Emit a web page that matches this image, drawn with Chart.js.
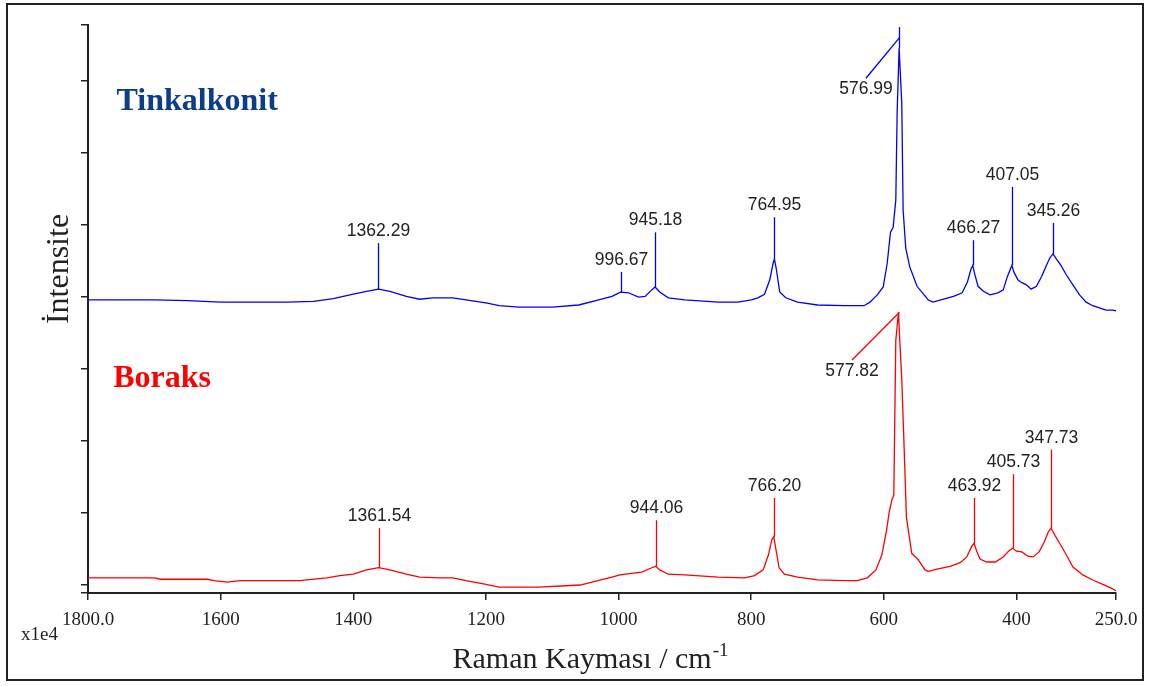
<!DOCTYPE html>
<html>
<head>
<meta charset="utf-8">
<script src="https://cdn.jsdelivr.net/npm/chart.js@4"></script>
<style>
  body { margin: 0; background: #fff; }
  #wrap { width: 1152px; height: 686px; }
</style>
</head>
<body>
<div id="wrap"><canvas id="ramanChart"></canvas></div>
<script>
// Tinkalkonit spectrum (Raman shift cm-1, intensity x1e4, offset)
const blueX = [1800, 1700, 1650, 1600, 1500, 1460, 1430, 1400, 1380, 1362, 1345, 1320, 1300, 1280, 1250, 1230, 1200, 1180, 1150, 1100,
  1060, 1030, 1010, 997, 985, 970, 960, 950, 945, 938, 925, 900, 850, 820, 800, 790, 780, 772, 767, 765,
  762, 757, 748, 730, 700, 660, 630, 621, 610, 601, 595, 590, 586, 582, 580, 577, 573, 571, 567, 561,
  550, 533, 526, 510, 495, 482, 474, 469, 466, 463, 458, 450, 440, 428, 420, 414, 407, 404, 398, 392,
  385, 378, 370, 362, 355, 350, 345, 340, 333, 325, 315, 305, 295, 285, 275, 265, 255, 250];
const blueY = [3.96, 3.96, 3.95, 3.93, 3.93, 3.94, 3.98, 4.04, 4.08, 4.11, 4.08, 4.01, 3.97, 3.99, 3.99, 3.96, 3.92, 3.88, 3.86, 3.86,
  3.89, 3.96, 4.01, 4.07, 4.06, 4.00, 4.01, 4.10, 4.14, 4.07, 3.99, 3.96, 3.93, 3.93, 3.96, 3.99, 4.04, 4.24, 4.47, 4.53,
  4.38, 4.07, 3.99, 3.93, 3.89, 3.88, 3.88, 3.93, 4.03, 4.14, 4.47, 4.90, 4.97, 5.35, 6.56, 7.46, 6.69, 5.21, 4.68, 4.42,
  4.15, 3.96, 3.93, 3.97, 4.01, 4.06, 4.21, 4.38, 4.44, 4.32, 4.15, 4.08, 4.03, 4.06, 4.10, 4.28, 4.44, 4.35, 4.24, 4.20,
  4.17, 4.11, 4.15, 4.29, 4.44, 4.54, 4.60, 4.53, 4.44, 4.31, 4.17, 4.03, 3.93, 3.88, 3.85, 3.82, 3.82, 3.81];

// Boraks spectrum
const redX = [1800, 1700, 1690, 1620, 1610, 1590, 1570, 1480, 1470, 1440, 1420, 1400, 1380, 1362, 1345, 1320, 1300, 1270, 1250, 1230,
  1200, 1180, 1120, 1080, 1058, 1040, 1010, 998, 965, 950, 944, 938, 925, 900, 850, 810, 795, 782, 774, 769,
  766, 763, 758, 750, 730, 700, 660, 640, 625, 612, 603, 596, 592, 588, 585, 582, 578, 576, 573, 570,
  566, 558, 548, 538, 533, 520, 500, 485, 475, 468, 464, 460, 455, 445, 432, 420, 412, 406, 400, 392,
  383, 375, 366, 358, 352, 348, 342, 335, 325, 315, 300, 285, 270, 258, 250];
const redY = [0.10, 0.10, 0.08, 0.08, 0.06, 0.04, 0.06, 0.06, 0.07, 0.10, 0.13, 0.15, 0.21, 0.24, 0.21, 0.15, 0.11, 0.10, 0.10, 0.06,
  0.01, -0.03, -0.03, -0.01, 0.00, 0.04, 0.11, 0.14, 0.18, 0.24, 0.26, 0.21, 0.15, 0.14, 0.11, 0.10, 0.13, 0.21, 0.42, 0.63,
  0.67, 0.51, 0.24, 0.15, 0.11, 0.07, 0.06, 0.06, 0.10, 0.21, 0.42, 0.76, 1.01, 1.18, 1.25, 3.40, 3.79, 3.40, 2.85, 2.06,
  0.94, 0.44, 0.35, 0.21, 0.19, 0.22, 0.26, 0.31, 0.39, 0.53, 0.58, 0.47, 0.36, 0.32, 0.32, 0.39, 0.47, 0.51, 0.47, 0.46,
  0.40, 0.39, 0.46, 0.60, 0.74, 0.79, 0.69, 0.58, 0.42, 0.25, 0.14, 0.07, 0.01, -0.04, -0.08];

// peak markers: position, where the marker line starts, where it ends
const bluePeakX = [1362.29, 996.67, 945.18, 764.95, 576.99, 466.27, 407.05, 345.26];
const bluePeakBase = [4.11, 4.07, 4.14, 4.53, 7.46, 4.44, 4.44, 4.60];
const bluePeakTop = [4.75, 4.35, 4.90, 5.11, 7.75, 4.79, 5.53, 5.03];
const blueLeaderX = [null, null, null, null, 627, null, null, null];
const blueLeaderY = [null, null, null, null, 7.04, null, null, null];

const redPeakX = [1361.54, 944.06, 766.20, 577.82, 463.92, 405.73, 347.73];
const redPeakBase = [0.24, 0.26, 0.67, 3.79, 0.58, 0.51, 0.79];
const redPeakTop = [0.79, 0.90, 1.21, 3.79, 1.21, 1.54, 1.88];
const redLeaderX = [null, null, null, 648, null, null, null];
const redLeaderY = [null, null, null, 3.125, null, null, null];

const xTicks = [1800, 1600, 1400, 1200, 1000, 800, 600, 400, 250];
const yTicks = [0, 1, 2, 3, 4, 5, 6, 7];

const BLUE = 'rgb(0,0,255)';
const RED = 'rgb(255,0,0)';
const INK = '#222';

function toPoints(xs, ys) {
    return xs.map((x, i) => ({ x: x, y: ys[i] }));
}

function drawPeaks(chart, color, px, base, top, lx, ly) {
    const ctx = chart.ctx;
    const xs = chart.scales.x, ys = chart.scales.y;
    ctx.save();
    ctx.strokeStyle = color;
    ctx.lineWidth = 1.3;
    ctx.fillStyle = INK;
    ctx.font = '17.5px "Liberation Sans", Arial, sans-serif';
    ctx.textAlign = 'center';
    ctx.textBaseline = 'middle';
    px.forEach((x, i) => {
        const X = Math.round(xs.getPixelForValue(x)) + 0.5;
        const yb = ys.getPixelForValue(base[i]);
        const yt = ys.getPixelForValue(top[i]);
        if (yb !== yt) {
            ctx.beginPath();
            ctx.moveTo(X, yb);
            ctx.lineTo(X, yt);
            ctx.stroke();
        }
        const label = x.toFixed(2);
        if (lx[i] !== null) {
            const LX = xs.getPixelForValue(lx[i]);
            const LY = ys.getPixelForValue(ly[i]);
            ctx.beginPath();
            ctx.moveTo(X, (yb + yt) / 2);
            ctx.lineTo(LX, LY);
            ctx.stroke();
            ctx.fillText(label, LX, LY + 11);
        } else {
            ctx.fillText(label, X, yt - 12);
        }
    });
    ctx.restore();
}

const decorPlugin = {
    id: 'decor',
    beforeDraw(chart) {
        const ctx = chart.ctx;
        ctx.save();
        ctx.fillStyle = '#fff';
        ctx.fillRect(0, 0, chart.width, chart.height);
        ctx.strokeStyle = INK;
        ctx.lineWidth = 2;
        ctx.strokeRect(7, 4, 1136, 676);
        ctx.restore();
    },
    afterDatasetsDraw(chart) {
        drawPeaks(chart, BLUE, bluePeakX, bluePeakBase, bluePeakTop, blueLeaderX, blueLeaderY);
        drawPeaks(chart, RED, redPeakX, redPeakBase, redPeakTop, redLeaderX, redLeaderY);

        const ctx = chart.ctx;
        const xs = chart.scales.x, ys = chart.scales.y;
        ctx.save();
        // sample names
        ctx.font = 'bold 32px "Liberation Serif", "Times New Roman", serif';
        ctx.textAlign = 'left';
        ctx.textBaseline = 'alphabetic';
        ctx.fillStyle = '#0b3d8c';
        ctx.fillText('Tinkalkonit', xs.getPixelForValue(1757), ys.getPixelForValue(6.6));
        ctx.fillStyle = RED;
        ctx.fillText('Boraks', xs.getPixelForValue(1762), ys.getPixelForValue(2.75));

        // y title
        ctx.fillStyle = INK;
        ctx.font = '32px "Liberation Serif", "Times New Roman", serif';
        ctx.save();
        ctx.translate(68, 269);
        ctx.rotate(-Math.PI / 2);
        ctx.textAlign = 'center';
        ctx.fillText('İntensite', 0, 0);
        ctx.restore();

        // x title with superscript
        const main = 'Raman Kayması / cm';
        const sup = '-1';
        ctx.font = '30px "Liberation Serif", "Times New Roman", serif';
        const wMain = ctx.measureText(main).width;
        ctx.font = '19px "Liberation Serif", "Times New Roman", serif';
        const wSup = ctx.measureText(sup).width;
        const cx = (chart.chartArea.left + chart.chartArea.right) / 2 - 12;
        const x0 = cx - (wMain + wSup) / 2;
        ctx.textAlign = 'left';
        ctx.font = '30px "Liberation Serif", "Times New Roman", serif';
        ctx.fillText(main, x0, 668);
        ctx.font = '19px "Liberation Serif", "Times New Roman", serif';
        ctx.fillText(sup, x0 + wMain + 1, 656);

        // exponent note
        ctx.font = '19px "Liberation Serif", "Times New Roman", serif';
        ctx.fillText('x1e4', 21, 640);
        ctx.restore();
    }
};

const ctx = document.getElementById('ramanChart').getContext('2d');
new Chart(ctx, {
    type: 'scatter',
    data: {
        datasets: [
            {
                label: 'Tinkalkonit',
                data: toPoints(blueX, blueY),
                showLine: true,
                borderColor: BLUE,
                borderWidth: 1.3,
                pointRadius: 0,
                tension: 0
            },
            {
                label: 'Boraks',
                data: toPoints(redX, redY),
                showLine: true,
                borderColor: RED,
                borderWidth: 1.3,
                pointRadius: 0,
                tension: 0
            }
        ]
    },
    options: {
        responsive: true,
        maintainAspectRatio: false,
        animation: false,
        layout: { padding: { top: 25, right: 36, left: 0, bottom: 0 } },
        plugins: {
            legend: { display: false },
            tooltip: { enabled: false }
        },
        scales: {
            x: {
                type: 'linear',
                reverse: true,
                min: 250,
                max: 1800,
                afterBuildTicks: scale => { scale.ticks = xTicks.map(v => ({ value: v })); },
                afterFit: scale => { scale.height = 93; },
                grid: { drawOnChartArea: false, drawTicks: true, tickLength: 7, color: INK, lineWidth: 1.5 },
                border: { display: true, color: INK, width: 2 },
                ticks: {
                    color: INK,
                    padding: 9,
                    maxRotation: 0,
                    autoSkip: false,
                    font: { family: '"Liberation Serif", "Times New Roman", serif', size: 19 },
                    callback: v => (v === 1800 || v === 250) ? v.toFixed(1) : String(v)
                }
            },
            y: {
                type: 'linear',
                min: -0.111,
                max: 7.78,
                afterBuildTicks: scale => {
                    scale.ticks = [scale.min].concat(yTicks, [scale.max]).map(v => ({ value: v }));
                },
                afterFit: scale => { scale.width = 88; },
                grid: { drawOnChartArea: false, drawTicks: true, tickLength: 7, color: INK, lineWidth: 1.5 },
                border: { display: true, color: INK, width: 2 },
                ticks: { display: false }
            }
        }
    },
    plugins: [decorPlugin]
});
</script>
</body>
</html>
